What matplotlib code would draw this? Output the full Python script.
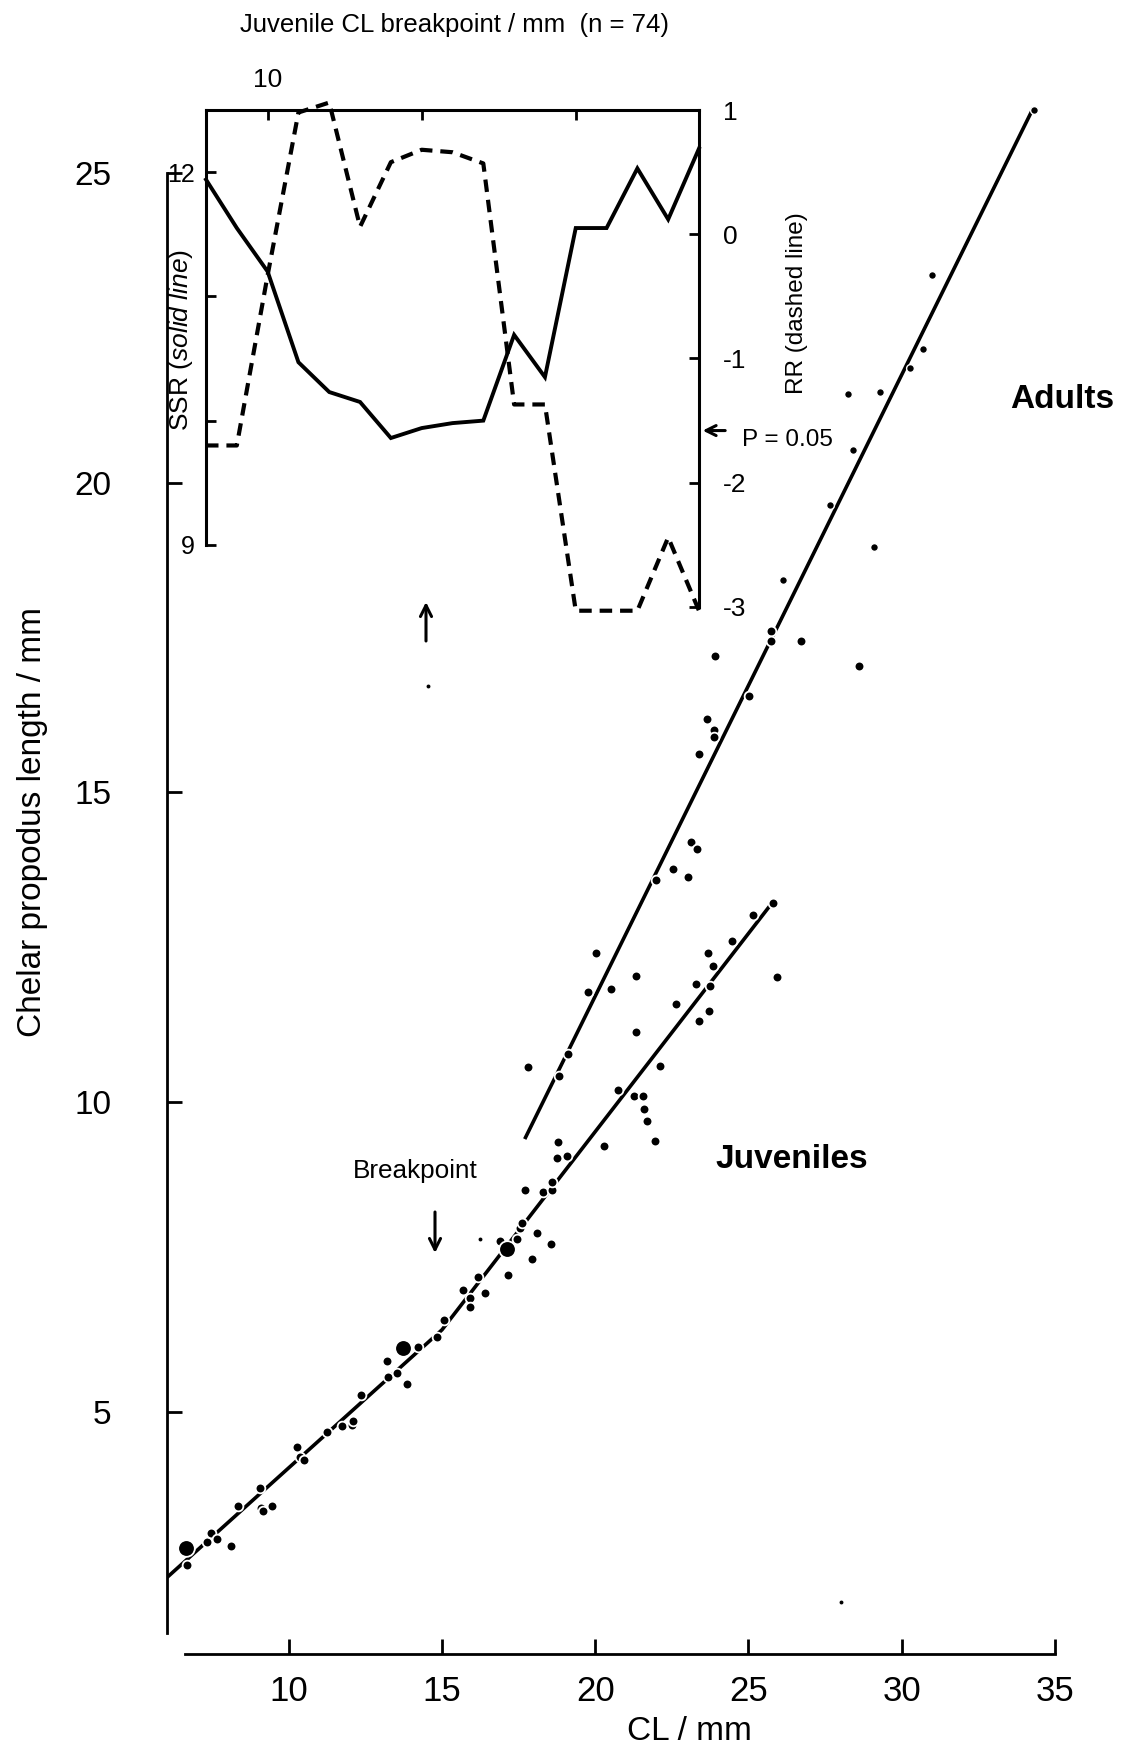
import matplotlib
matplotlib.use("Agg")
import matplotlib.pyplot as plt

plt.rcParams['font.family'] = ['Liberation Sans', 'DejaVu Sans']
plt.rcParams['mathtext.fontset'] = 'custom'
plt.rcParams['mathtext.rm'] = 'Liberation Sans'
plt.rcParams['mathtext.it'] = 'Liberation Sans:italic'
NARROW = ['Liberation Sans Narrow', 'Liberation Sans', 'DejaVu Sans']

# ---------------- data ----------------
juv_cl = [6.69, 7.32, 7.46, 7.65, 8.11, 8.33, 9.06, 9.09, 9.17, 9.46,
          10.26, 10.37, 10.51, 11.24, 11.75, 12.05, 12.11, 12.36, 13.21, 13.25,
          13.54, 13.85, 14.23, 14.83, 15.08, 15.70, 15.91, 15.91, 16.18, 16.40,
          16.89, 17.16, 17.44, 17.55, 17.60, 18.11, 18.55, 17.95, 17.71, 18.31,
          18.58, 18.58, 18.74, 19.07, 18.80, 20.29, 20.75, 21.27, 21.57, 21.59,
          21.68, 21.96, 22.11, 22.63, 23.40, 23.72, 23.29, 23.75, 23.69, 23.85,
          24.45, 25.16, 25.79, 25.92]
juv_pl = [2.52, 2.90, 3.04, 2.94, 2.83, 3.47, 3.77, 3.44, 3.40, 3.48,
          4.43, 4.27, 4.22, 4.67, 4.76, 4.78, 4.85, 5.27, 5.82, 5.55,
          5.63, 5.44, 6.05, 6.21, 6.48, 6.96, 6.83, 6.69, 7.18, 6.92,
          7.76, 7.20, 7.78, 7.97, 8.05, 7.89, 7.71, 7.47, 8.58, 8.54,
          8.57, 8.70, 9.09, 9.12, 9.36, 9.29, 10.19, 10.09, 10.09, 9.88,
          9.69, 9.37, 10.58, 11.58, 11.30, 11.47, 11.90, 11.87, 12.40, 12.19,
          12.60, 13.01, 13.21, 12.02]

big_cl = [6.64, 13.74, 17.11]
big_pl = [2.79, 6.03, 7.62]

adult_cl = [17.80, 18.83, 19.12, 19.78, 20.51, 20.02, 21.32, 21.33, 21.97, 22.55,
            23.02, 23.13, 23.33, 23.40, 23.64, 23.89, 23.89, 23.91, 25.03, 25.73,
            25.74, 26.72, 28.61]
adult_pl = [10.57, 10.42, 10.77, 11.77, 11.82, 12.40, 12.04, 11.13, 13.58, 13.76,
            13.63, 14.19, 14.09, 15.62, 16.18, 16.00, 15.90, 17.20, 16.55, 17.61,
            17.45, 17.45, 17.04]

adult_up_cl = [26.14, 27.66, 29.11, 28.40, 28.24, 29.30, 30.27, 30.69, 30.98, 34.33]
adult_up_pl = [18.42, 19.64, 18.96, 20.53, 21.43, 21.47, 21.85, 22.16, 23.35, 26.01]

speck_cl = [16.24, 14.54, 28.01]
speck_pl = [7.78, 16.72, 1.92]

juv_fit_cl = [6.0, 15.0, 25.8]
juv_fit_pl = [2.31, 6.32, 13.23]
adult_fit_cl = [17.7, 34.3]
adult_fit_pl = [9.40, 26.05]

bp_cl = [8, 9, 10, 11, 12, 13, 14, 15, 16, 17, 18, 19, 20, 21, 22, 23, 24]
ssr = [11.94, 11.55, 11.20, 10.47, 10.23, 10.15, 9.86, 9.94, 9.98, 10.00,
       10.69, 10.35, 11.55, 11.55, 12.03, 11.62, 12.19]
rr = [-1.70, -1.70, -0.33, 0.98, 1.06, 0.06, 0.58, 0.68, 0.66, 0.57,
      -1.37, -1.37, -3.03, -3.03, -3.03, -2.44, -3.03]

main_xticks = [10, 15, 20, 25, 30, 35]
main_yticks = [5, 10, 15, 20, 25]
ssr_ticks = [9, 10, 11, 12]
ssr_ticklabels = ['9', '', '', '12']
rr_ticks = [-3, -2, -1, 0, 1]
rr_ticklabels = ['-3', '-2', '-1', '0', '1']
top_ticks = [10, 15, 20]
top_ticklabels = ['10', '', '']
p05_rr = -1.58

# ---------------- figure ----------------
W, H = 1125, 1748
fig = plt.figure(figsize=(W / 100, H / 100), dpi=100)


def fx(px):
    return px / W


def fy(py):
    return 1 - py / H


LW_AX = 2.0
ax = fig.add_axes([0.14862, 0.05360, 0.81618, 0.91831])
ax.set_xlim(6.03, 36.0)
ax.set_ylim(1.08, 27.0)
for s in ['top', 'right']:
    ax.spines[s].set_visible(False)
ax.spines['left'].set_bounds(1.42, 25)
ax.spines['bottom'].set_bounds(6.6, 35)
for s in ['left', 'bottom']:
    ax.spines[s].set_linewidth(LW_AX)
ax.set_xticks(main_xticks)
ax.set_yticks(main_yticks)
ax.tick_params(axis='both', direction='in', length=11, width=LW_AX)
ax.tick_params(axis='y', pad=40, labelsize=24)
ax.tick_params(axis='x', pad=15, labelsize=25)
for lab in ax.get_xticklabels():
    lab.set_family(NARROW)

ax.plot(juv_fit_cl, juv_fit_pl, color='black', lw=2.6, zorder=2, solid_capstyle='butt')
ax.plot(adult_fit_cl, adult_fit_pl, color='black', lw=2.6, zorder=2, solid_capstyle='butt')

mk = dict(ls='none', marker='o', color='black', markeredgecolor='white', zorder=3)
ax.plot(juv_cl, juv_pl, markersize=7.0, markeredgewidth=1.3, **mk)
ax.plot(adult_cl, adult_pl, markersize=7.0, markeredgewidth=1.3, **mk)
ax.plot(adult_up_cl, adult_up_pl, markersize=5.6, markeredgewidth=1.0, **mk)
ax.plot(big_cl, big_pl, markersize=12, markeredgewidth=1.3, **mk)
ax.plot(speck_cl, speck_pl, ls='none', marker='o', color='black', markersize=2.8,
        markeredgewidth=0, zorder=3)

# ---------------- inset ----------------
rect = [0.18311, 0.65275, 0.43822, 0.28432]
ax_ssr = fig.add_axes(rect)
ax_ssr.patch.set_alpha(0)
ax_ssr.set_xlim(8, 24)
ax_ssr.set_ylim(8.5, 12.5)
ax_ssr.spines['right'].set_visible(False)
ax_ssr.spines['bottom'].set_visible(False)
ax_ssr.spines['left'].set_bounds(9, 12.5)
for s in ['left', 'top']:
    ax_ssr.spines[s].set_linewidth(2.2)
ax_ssr.xaxis.tick_top()
ax_ssr.set_xticks(top_ticks)
ax_ssr.set_xticklabels(top_ticklabels)
ax_ssr.set_yticks(ssr_ticks)
ax_ssr.set_yticklabels(ssr_ticklabels)
ax_ssr.tick_params(axis='x', direction='in', length=7, width=2.0, labelsize=19, pad=13)
ax_ssr.tick_params(axis='y', direction='in', length=7, width=2.0, labelsize=18, pad=8)
ax_ssr.plot(bp_cl, ssr, color='black', lw=2.8, clip_on=False, solid_joinstyle='miter')

ax_rr = ax_ssr.twinx()
ax_rr.patch.set_alpha(0)
ax_rr.set_ylim(-3, 1)
for s in ['left', 'top', 'bottom']:
    ax_rr.spines[s].set_visible(False)
ax_rr.spines['right'].set_linewidth(2.2)
ax_rr.set_yticks(rr_ticks)
ax_rr.set_yticklabels(rr_ticklabels)
ax_rr.tick_params(axis='y', direction='in', length=7, width=2.0, labelsize=19, pad=17)
ax_rr.plot(bp_cl, rr, color='black', lw=3.0, dashes=(3.0, 1.9), clip_on=False)

ax_rr.annotate('', xy=(24.12, p05_rr), xytext=(24.85, p05_rr),
               xycoords='data', textcoords='data', annotation_clip=False,
               arrowprops=dict(arrowstyle='->', lw=2.2, color='black',
                               mutation_scale=18, shrinkA=0, shrinkB=0))

# ---------------- texts ----------------
fig.text(fx(454), fy(25), 'Juvenile CL breakpoint / mm  (n = 74)', ha='center',
         va='center', fontsize=18.5)
fig.text(fx(181), fy(340), r'SSR ($\mathit{solid\ line}$)', rotation=90, ha='center',
         va='center', fontsize=19)
fig.text(fx(797), fy(303), 'RR (dashed line)', rotation=90, ha='center', va='center',
         fontsize=17.5)
fig.text(fx(742), fy(440), 'P = 0.05', ha='left', va='center', fontsize=17.5)
fig.text(fx(1062), fy(399), 'Adults', ha='center', va='center', fontsize=24,
         fontweight='bold')
fig.text(fx(792), fy(1160), 'Juveniles', ha='center', va='center', fontsize=24,
         fontweight='bold')
fig.text(fx(415), fy(1171), 'Breakpoint', ha='center', va='center', fontsize=18.8)
fig.text(fx(689), fy(1731), 'CL / mm', ha='center', va='center', fontsize=24,
         family=NARROW)
fig.text(fx(33), fy(822), 'Chelar propodus length / mm', rotation=90, ha='center',
         va='center', fontsize=24)

arrow = dict(arrowstyle='->', lw=2.2, color='black', mutation_scale=20,
             shrinkA=0, shrinkB=0)
fig.add_artist(matplotlib.patches.FancyArrowPatch(
    (fx(435) * W, fy(1212) * H), (fx(435) * W, fy(1253) * H),
    transform=None, **arrow))
fig.add_artist(matplotlib.patches.FancyArrowPatch(
    (fx(426) * W, fy(641) * H), (fx(426) * W, fy(602) * H),
    transform=None, **arrow))

fig.savefig('out.png', dpi=100, facecolor='white')
